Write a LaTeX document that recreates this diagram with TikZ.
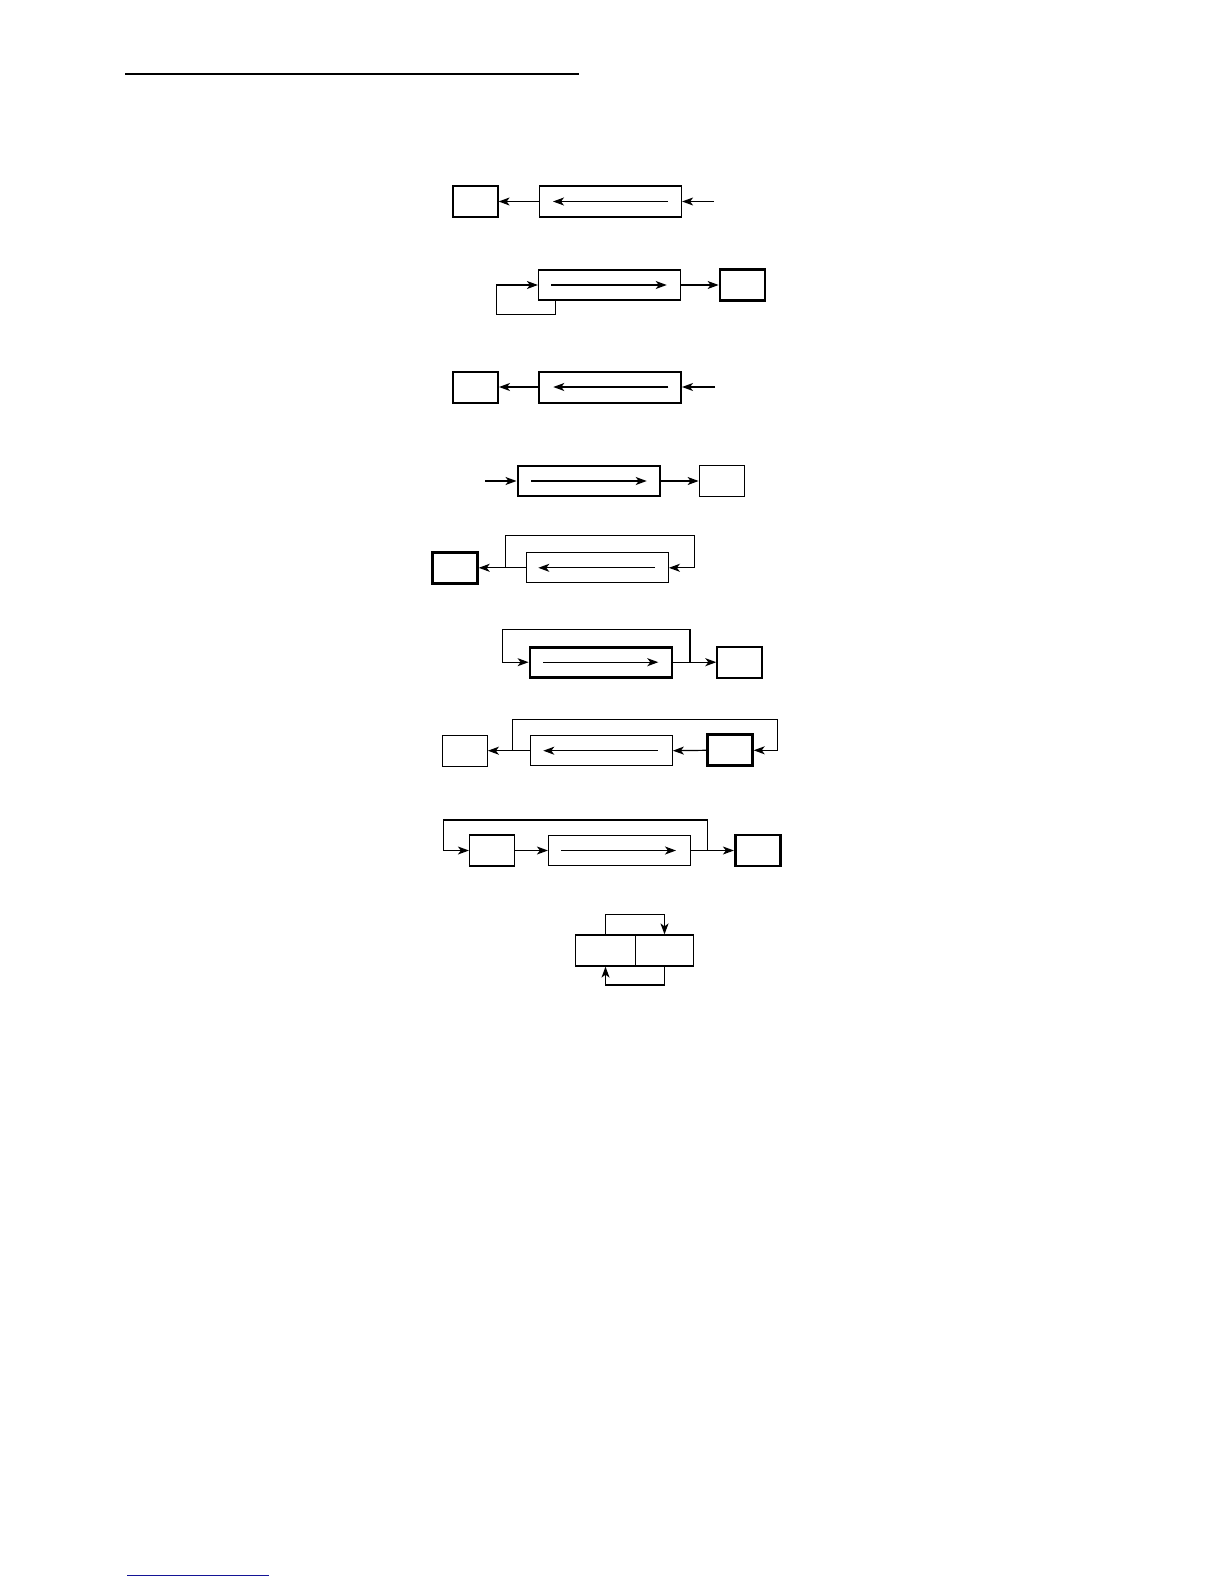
\documentclass[tikz,border=0pt]{standalone}
\usetikzlibrary{arrows.meta}
\definecolor{footblue}{RGB}{20,20,150}
\begin{document}
\begin{tikzpicture}[x=1pt,y=-1pt,
  box/.style={draw,line width=1.2pt,rectangle,inner sep=0pt,minimum height=31pt},
  sbox/.style={box,minimum width=45pt},
  bbox/.style={box,minimum width=142pt,minimum height=30pt},
  thk/.style={line width=2.8pt},
  mthk/.style={line width=2pt},
  arr/.style={line width=1.2pt,-{Stealth[length=11pt,width=8pt,inset=3pt]}},
  ln/.style={line width=1.2pt}]
\useasboundingbox (0,0) rectangle (1224,1584);
\draw[line width=1.3pt] (125,74) -- (579,74);
\draw[footblue,line width=1pt] (127,1575) -- (269,1575);
% Row 1
\node[sbox] (a1) at (475.5,201.5) {};
\node[bbox,minimum height=31pt] (b1) at (610.5,201.5) {};
\coordinate (i1) at (714,201.5);
\coordinate (p1s) at (668,201.5);
\coordinate (p1e) at (553,201.5);
\draw[arr] (i1) -- (b1.east);
\draw[arr] (b1.west) -- (a1.east);
\draw[arr] (p1s) -- (p1e);
% Row 2
\node[bbox] (b2) at (609.5,285) {};
\node[sbox,thk] (a2) at (742.5,285) {};
\coordinate (p2s) at (551,285);
\coordinate (p2e) at (666.7,285);
\coordinate (k2a) at (555.3,314.3);
\coordinate (k2b) at (496.3,314.3);
\draw[arr] (p2s) -- (p2e);
\draw[arr] (b2.east) -- (a2.west);
\draw[arr] (b2.south -| k2a) -- (k2a) -- (k2b) |- (b2.west);
% Row 3
\node[sbox,mthk] (a3) at (475.5,387) {};
\node[bbox,minimum height=31pt,mthk] (b3) at (610,387) {};
\coordinate (i3) at (715,387);
\coordinate (p3s) at (668.3,387);
\coordinate (p3e) at (553.3,387);
\draw[arr] (i3) -- (b3.east);
\draw[arr] (b3.west) -- (a3.east);
\draw[arr] (p3s) -- (p3e);
% Row 4
\node[bbox,thk] (b4) at (588.9,481) {};
\node[sbox] (a4) at (721.7,481) {};
\coordinate (i4) at (485,481);
\coordinate (p4s) at (531,481);
\coordinate (p4e) at (646.7,481);
\draw[arr] (i4) -- (b4.west);
\draw[arr] (b4.east) -- (a4.west);
\draw[arr] (p4s) -- (p4e);
% Row 5
\node[sbox,thk] (a5) at (454.8,567.8) {};
\node[bbox] (b5) at (597.3,567.8) {};
\coordinate (p5s) at (655,567.8);
\coordinate (p5e) at (538.3,567.8);
\coordinate (j5) at (505.3,567.8);
\coordinate (k5) at (694.3,535.7);
\draw[arr] (p5s) -- (p5e);
\draw[arr] (b5.west) -- (a5.east);
\draw[arr] (j5) |- (k5) |- (b5.east);
% Row 6
\node[bbox,thk] (b6) at (601,662.2) {};
\node[sbox,mthk] (a6) at (739.8,662.2) {};
\coordinate (p6s) at (543.3,662.2);
\coordinate (p6e) at (658.3,662.2);
\coordinate (j6) at (690,662.2);
\coordinate (k6) at (502.3,629.3);
\draw[arr] (p6s) -- (p6e);
\draw[arr] (b6.east) -- (a6.west);
\draw[arr] (j6) |- (k6) |- (b6.west);
% Row 7
\node[sbox] (a7) at (464.8,750.7) {};
\node[bbox] (b7) at (601.3,750.7) {};
\node[sbox,thk] (c7) at (729.8,750.3) {};
\coordinate (p7s) at (657.7,750.7);
\coordinate (p7e) at (543.3,750.7);
\coordinate (j7) at (512.3,750.7);
\coordinate (k7) at (777.7,719.3);
\draw[arr] (p7s) -- (p7e);
\draw[arr] (c7.west) -- (b7.east);
\draw[arr] (b7.west) -- (a7.east);
\draw[arr] (j7) |- (k7) |- (c7.east);
% Row 8
\node[sbox] (c8) at (492,850.5) {};
\node[bbox] (b8) at (619.5,850.5) {};
\node[sbox,thk] (d8) at (757.8,850.5) {};
\coordinate (p8s) at (561,850.5);
\coordinate (p8e) at (676,850.5);
\coordinate (j8) at (707.3,850.5);
\coordinate (k8) at (443.3,820);
\draw[arr] (p8s) -- (p8e);
\draw[arr] (c8.east) -- (b8.west);
\draw[arr] (b8.east) -- (d8.west);
\draw[arr] (j8) |- (k8) |- (c8.west);
% Row 9
\node[box,minimum width=60.4pt] (l9) at (605.5,950.5) {};
\node[box,minimum width=57.6pt] (r9) at (664.5,950.5) {};
\coordinate (k9a) at (664.5,914.3);
\coordinate (k9b) at (605.5,985);
\draw[arr] (l9.north) |- (k9a) -- (r9.north);
\draw[arr] (r9.south) |- (k9b) -- (l9.south);
\end{tikzpicture}
\end{document}
